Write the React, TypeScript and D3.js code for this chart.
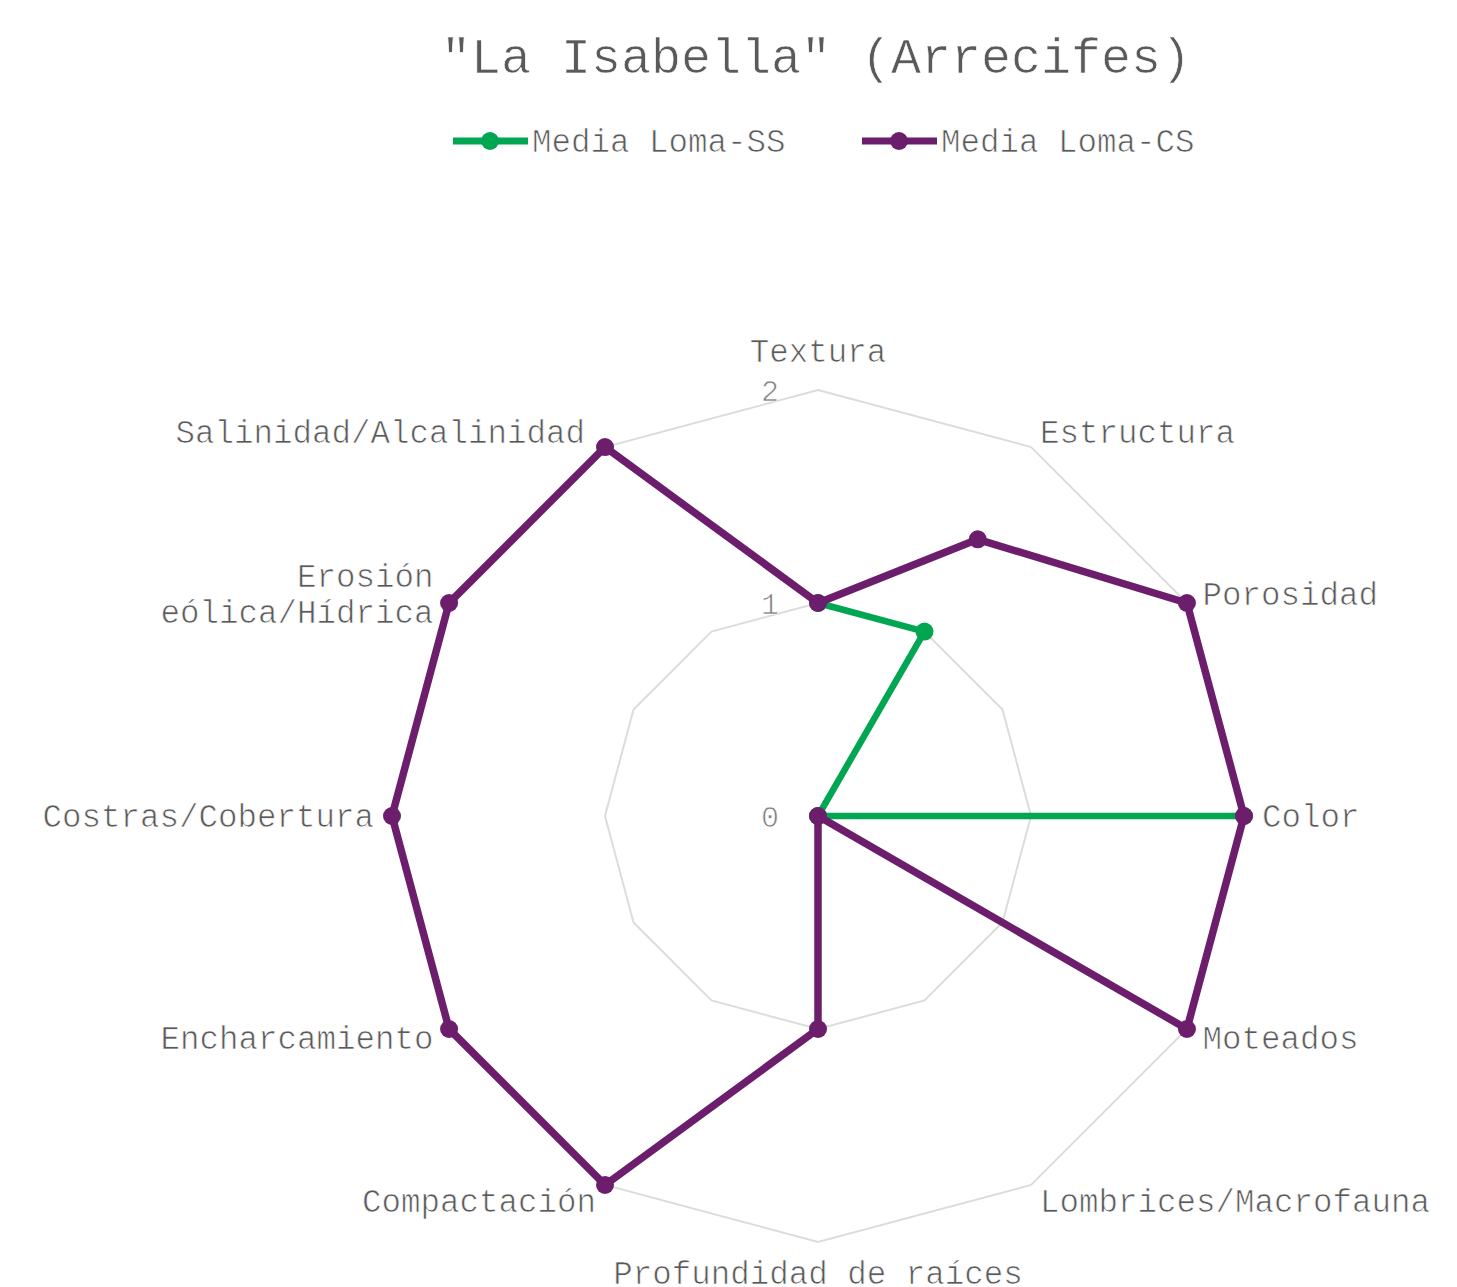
import React from "react";
import * as d3 from "d3";

const width = 1457;
const height = 1287;
const cx = 818;
const cy = 816;
const outerRadius = 426;

const title = '"La Isabella" (Arrecifes)';
const axes = [
  "Textura",
  "Estructura",
  "Porosidad",
  "Color",
  "Moteados",
  "Lombrices/Macrofauna",
  "Profundidad de raíces",
  "Compactación",
  "Encharcamiento",
  "Costras/Cobertura",
  "Erosión eólica/Hídrica",
  "Salinidad/Alcalinidad",
];
const axisLines: { [k: string]: string[] } = {
  "Erosión eólica/Hídrica": ["Erosión", "eólica/Hídrica"],
};
const ticks = [0, 1, 2];
const seriesNames = ["Media Loma-SS", "Media Loma-CS"];
const seriesColors = ["#00a651", "#6c1d6b"];
const lomaSS: (number | null)[] = [1, 1, 0, 2, 0, null, null, null, null, null, null, null];
const lomaCS: (number | null)[] = [1, 1.5, 2, 2, 2, 0, 1, 2, 2, 2, 2, 2];

// small label nudges seen in the original layout
const labelNudge: { [k: string]: number } = { "Salinidad/Alcalinidad": -11 };

const font = "'Liberation Mono', 'Courier New', monospace";
const textColor = "#5a5a5a";
const thin = { stroke: "#fff", strokeWidth: 0.7 };

export default function App() {
  const r = d3.scaleLinear().domain([0, 2]).range([0, outerRadius]);
  const angle = d3
    .scaleLinear()
    .domain([0, axes.length])
    .range([0, 2 * Math.PI]);

  const gridLine = d3
    .lineRadial<number>()
    .angle((_, i) => angle(i))
    .radius((d) => r(d))
    .curve(d3.curveLinearClosed);

  const pt = (i: number, v: number) => {
    const a = angle(i);
    return [Math.sin(a) * r(v), -Math.cos(a) * r(v)];
  };

  const openLine = d3
    .lineRadial<number | null>()
    .defined((d) => d != null)
    .angle((_, i) => angle(i))
    .radius((d) => r(d as number));

  const closedLine = d3
    .lineRadial<number | null>()
    .angle((_, i) => angle(i))
    .radius((d) => r(d as number))
    .curve(d3.curveLinearClosed);

  const series = [
    { name: seriesNames[0], color: seriesColors[0], width: 6.5, data: lomaSS, path: openLine(lomaSS) },
    { name: seriesNames[1], color: seriesColors[1], width: 7.5, data: lomaCS, path: closedLine(lomaCS) },
  ];

  const legendX = [453, 862];

  return (
    <svg
      width={width}
      height={height}
      style={{ position: "absolute", left: 0, top: 0, background: "#fff" }}
    >
      <text
        x={816}
        y={73}
        textAnchor="middle"
        fontFamily={font}
        fontSize={50}
        fill={textColor}
        {...thin}
        style={{ whiteSpace: "pre" }}
      >
        {title}
      </text>

      {series.map((s, i) => (
        <g key={s.name} transform={`translate(${legendX[i]},141)`}>
          <line x1={0} x2={75} y1={0} y2={0} stroke={s.color} strokeWidth={7} />
          <circle cx={37} cy={0} r={9} fill={s.color} />
          <text x={79} y={0} dy="0.35em" fontFamily={font} fontSize={32.5} fill={textColor} {...thin}>
            {s.name}
          </text>
        </g>
      ))}

      <g transform={`translate(${cx},${cy})`}>
        {ticks
          .filter((t) => t > 0)
          .map((t) => (
            <path
              key={t}
              d={gridLine(axes.map(() => t)) || ""}
              fill="none"
              stroke="#dcdcdc"
              strokeWidth={2}
            />
          ))}

        {ticks.map((t) => (
          <text
            key={t}
            x={-48}
            y={-r(t)}
            dy="0.35em"
            textAnchor="middle"
            fontFamily={font}
            fontSize={30}
            fill="#808080"
            {...thin}
          >
            {t}
          </text>
        ))}

        {axes.map((name, i) => {
          const a = angle(i);
          const lr = outerRadius + 18;
          const x = Math.sin(a) * lr + (labelNudge[name] || 0);
          const y = -Math.cos(a) * lr;
          const anchor = x > 1 ? "start" : x < -1 ? "end" : "middle";
          const lines = axisLines[name] || [name];
          const lh = 36;
          let y0: number;
          if (Math.abs(x) < 1 && y < 0) y0 = y - (lines.length - 1) * lh - 10;
          else if (Math.abs(x) < 1 && y > 0) y0 = y + 24;
          else y0 = y - ((lines.length - 1) * lh) / 2 + 11;
          return (
            <text
              key={name}
              x={x}
              y={y0}
              textAnchor={anchor}
              fontFamily={font}
              fontSize={32.5}
              fill={textColor}
              {...thin}
            >
              {lines.map((l, j) => (
                <tspan key={j} x={x} y={y0 + j * lh}>
                  {l}
                </tspan>
              ))}
            </text>
          );
        })}

        {series.map((s) => (
          <g key={s.name}>
            <path
              d={s.path || ""}
              fill="none"
              stroke={s.color}
              strokeWidth={s.width}
              strokeLinejoin="round"
            />
            {s.data.map((v, i) => {
              if (v == null) return null;
              const [x, y] = pt(i, v);
              return <circle key={i} cx={x} cy={y} r={9} fill={s.color} />;
            })}
          </g>
        ))}
      </g>
    </svg>
  );
}
